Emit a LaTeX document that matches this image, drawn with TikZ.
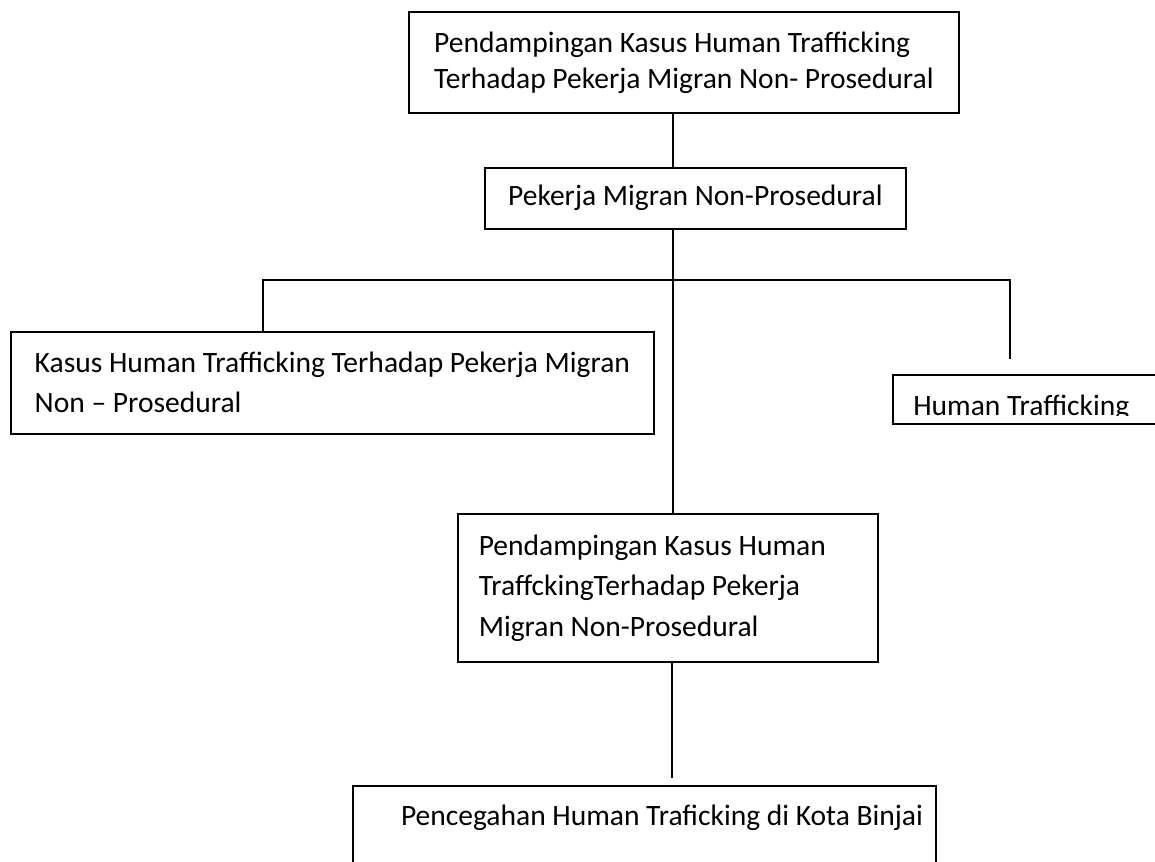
\documentclass[tikz,border=0pt]{standalone}
\usepackage{fontspec}
\setmainfont{Carlito}
\usepackage{tikz}

\begin{document}
\begin{tikzpicture}[
    x=0.025cm, y=-0.025cm,
    box/.style={rectangle, draw=black, line width=1.1pt, anchor=north west, inner xsep=0.55cm, inner ysep=0pt, align=flush left, font=\fontsize{21}{28.4}\selectfont},
    label/.style={anchor=base west, inner sep=0pt, font=\fontsize{21}{28.4}\selectfont},
    link/.style={draw=black, line width=1.1pt}
]
\useasboundingbox (0,0) rectangle (1155,861);

% Judul
\node[box, minimum width=13.75cm, minimum height=2.525cm, font=\fontsize{21}{25.6}\selectfont] (judul) at (408,11) {Pendampingan Kasus Human Trafficking\\Terhadap Pekerja Migran Non- Prosedural};

% Pekerja migran
\node[box, minimum width=10.525cm, minimum height=1.525cm, align=center] (migran) at (484,167) {Pekerja Migran Non-Prosedural};

% Cabang
\node[box, minimum width=16.075cm, minimum height=2.55cm] (kasus) at (10,331) {Kasus Human Trafficking Terhadap Pekerja Migran\\Non – Prosedural};
\node[box, minimum width=6.95cm, minimum height=1.225cm] (human) at (892,374) {};
\begin{scope}
  \clip (human.north west) rectangle (1155,415);
  \node[label] (humanlabel) at (913,415.7) {Human Trafficking};
\end{scope}

% Pendampingan
\node[box, minimum width=10.5cm, minimum height=3.7cm, text width=9.45cm, inner xsep=0.525cm, font=\fontsize{21}{28.8}\selectfont] (pendampingan) at (457,513) {Pendampingan Kasus Human\\TraffckingTerhadap Pekerja\\Migran Non-Prosedural};

% Pencegahan
\node[box, minimum width=14.575cm, text width=13.925cm, inner xsep=0.325cm, inner ysep=0.475cm, align=flush right] (pencegahan) at (352,785) {Pencegahan Human Traficking di Kota Binjai\\[1.2cm]\mbox{}};

% Garis
\coordinate (trunk) at (673,0);
\coordinate (kiri) at (263,280);
\coordinate (kanan) at (1010,280);
\coordinate (ujungkanan) at (1010,359);
\coordinate (ujungbawah) at (672,778);

\draw[link] (judul.south -| trunk) -- (migran.north -| trunk);
\draw[link] (migran.south -| trunk) -- (pendampingan.north -| trunk);
\draw[link] (kasus.north -| kiri) -- (kiri) -- (kanan) -- (ujungkanan);
\draw[link] (pendampingan.south -| ujungbawah) -- (ujungbawah);

\end{tikzpicture}
\end{document}
